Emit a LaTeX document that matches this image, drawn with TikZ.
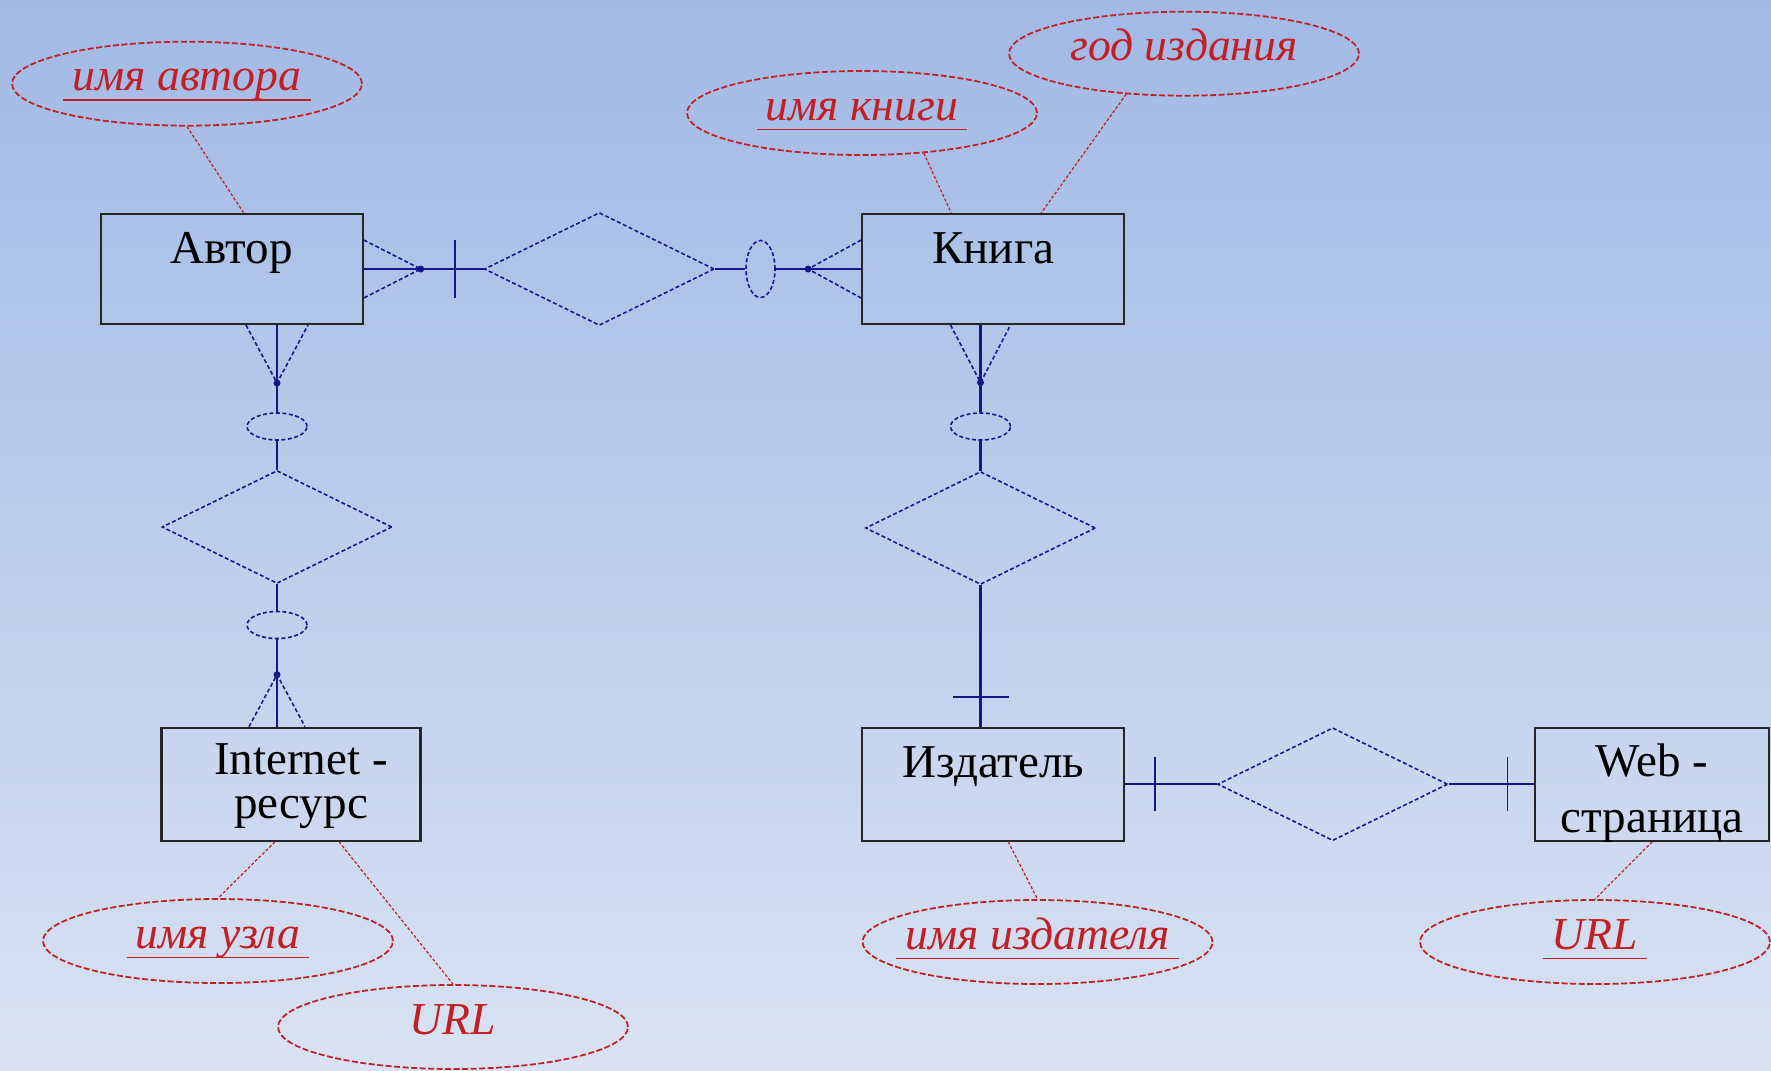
\documentclass[tikz,border=0pt]{standalone}
\usepackage{fontspec}
\setmainfont{Liberation Serif}
\usetikzlibrary{shapes.geometric, positioning}
\definecolor{bgtop}{RGB}{161,185,229}
\definecolor{bgbottom}{RGB}{216,226,242}
\definecolor{erblue}{RGB}{22,22,140}
\definecolor{erred}{RGB}{195,30,35}
\newcommand{\keyattr}[1]{\underline{\hspace{0.2em}\smash{#1}\vrule width 0pt depth 0.1em\hspace{0.2em}}}

\begin{document}
\begin{tikzpicture}[
  x=0.1mm, y=-0.1mm,
  entity/.style={draw=black!85, line width=0.6pt, rectangle, inner sep=0pt,
    minimum width=26.2mm, minimum height=11mm, text height=4.9mm, text depth=6.1mm,
    font=\fontsize{13.4pt}{16pt}\selectfont},
  relation/.style={diamond, draw=erblue, line width=0.45pt, dash pattern=on 0.4mm off 0.25mm,
    inner sep=0pt, minimum width=23mm, minimum height=11.3mm},
  optional/.style={ellipse, draw=erblue, line width=0.45pt, dash pattern=on 0.4mm off 0.25mm,
    inner sep=0pt, minimum width=6mm, minimum height=2.7mm},
  attribute/.style={ellipse, draw=erred, line width=0.5pt, dash pattern=on 0.6mm off 0.25mm,
    inner xsep=-4mm, inner ysep=0pt, minimum width=35mm, minimum height=8.4mm,
    text height=2.2mm, text depth=0.8mm, text=erred,
    font=\fontsize{13pt}{15pt}\selectfont\itshape},
  link/.style={erblue, line width=0.6pt},
  crowfoot/.style={erblue, line width=0.45pt, dash pattern=on 0.4mm off 0.25mm},
  onebar/.style={erblue, line width=0.5pt},
  attrlink/.style={erred, line width=0.35pt, dash pattern=on 0.3mm off 0.2mm}
]

% Background
\shade[top color=bgtop, bottom color=bgbottom] (0,0) rectangle (1771,1070);
\useasboundingbox (0,0) rectangle (1771,1070);

% Entities
\node (avtor) [entity] at (231.7,269) {Автор};
\node (kniga) [entity] at (993.2,269) {Книга};
\node (inet) [entity, align=center, minimum width=25.9mm, text height=9.05mm, text depth=2.25mm,
  font=\fontsize{13.4pt}{12.4pt}\selectfont] at (291,784.2) {\hspace{2mm}Internet -\\\hspace{2mm}ресурс};
\node (izdat) [entity, text height=5mm, text depth=6.3mm] at (993.2,784.2) {Издатель};
\node (web) [entity, align=center, minimum width=23.4mm, text height=10.5mm, text depth=0.8mm,
  font=\fontsize{13.4pt}{16.1pt}\selectfont] at (1652.1,784.2) {Web -\\страница};

% Relationships
\node (rel1) [relation] at (599.3,269) {};
\node (rel2) [relation] at (277,527) {};
\node (rel3) [relation] at (980.5,528) {};
\node (rel4) [relation] at (1332.7,784.2) {};

% Optionality marks
\node (opt1) [optional] at (277,426.5) {};
\node (opt2) [optional] at (277,625) {};
\node (opt3) [optional] at (980.5,426.5) {};
\node (opt4) [optional, minimum width=2.9mm, minimum height=5.7mm] at (760.5,269) {};

% Attributes
\node (authorname) [attribute] at (187,83.7) {\keyattr{имя автора}};
\node (bookname) [attribute] at (862,113) {\keyattr{имя книги}};
\node (year) [attribute] at (1184,53.7) {год издания};
\node (hostname) [attribute] at (218,941) {\keyattr{имя узла}};
\node (inetaddr) [attribute] at (453,1027) {URL};
\node (pubname) [attribute] at (1037.5,942) {\keyattr{имя издателя}};
\node (webaddr) [attribute] at (1595,942) {\keyattr{URL}};

% Attribute links
\draw[attrlink] (authorname.south) -- ([xshift=1.2mm]avtor.north);
\draw[attrlink] (bookname.-33) -- ([xshift=-4.2mm]kniga.north);
\draw[attrlink] (year.-145) -- ([xshift=4.8mm]kniga.north);
\draw[attrlink] ([xshift=-1.6mm]inet.south) -- (hostname.north);
\draw[attrlink] ([xshift=4.8mm]inet.south) -- (inetaddr.north);
\draw[attrlink] ([xshift=1.5mm]izdat.south) -- (pubname.north);
\draw[attrlink] (web.south) -- (webaddr.north);

% Автор -- Книга
\coordinate (d1) at ([xshift=5.7mm]avtor.east);
\coordinate (d5) at ([xshift=-5.3mm]kniga.west);
\draw[link] (avtor.east) -- (rel1.west);
\draw[link] (rel1.east) -- (opt4.west);
\draw[link] (opt4.east) -- (kniga.west);
\draw[crowfoot] ([yshift=2.9mm]avtor.east) -- (d1) -- ([yshift=-2.9mm]avtor.east);
\draw[crowfoot] ([yshift=2.9mm]kniga.west) -- (d5) -- ([yshift=-2.9mm]kniga.west);
\draw[onebar] ([xshift=9.1mm,yshift=2.9mm]avtor.east) -- ([xshift=9.1mm,yshift=-2.9mm]avtor.east);

% Автор -- Internet-ресурс
\coordinate (c1) at (avtor.south -| rel2.north);
\coordinate (c2) at (inet.north -| rel2.south);
\coordinate (d2) at ([yshift=-5.8mm]c1);
\coordinate (d3) at ([yshift=5.2mm]c2);
\draw[link] (c1) -- (opt1.north);
\draw[link] (opt1.south) -- (rel2.north);
\draw[link] (rel2.south) -- (opt2.north);
\draw[link] (opt2.south) -- (c2);
\draw[crowfoot] ([xshift=-3.1mm]c1) -- (d2) -- ([xshift=3.1mm]c1);
\draw[crowfoot] ([xshift=-2.8mm]c2) -- (d3) -- ([xshift=2.8mm]c2);

% Книга -- Издатель
\coordinate (c3) at (kniga.south -| rel3.north);
\coordinate (c4) at (izdat.north -| rel3.south);
\coordinate (d4) at ([yshift=-5.75mm]c3);
\draw[link] (c3) -- (opt3.north);
\draw[link] (opt3.south) -- (rel3.north);
\draw[link] (rel3.south) -- (c4);
\draw[crowfoot] ([xshift=-3mm]c3) -- (d4) -- ([xshift=3mm]c3);
\draw[onebar] ([xshift=-2.8mm,yshift=3mm]c4) -- ([xshift=2.8mm,yshift=3mm]c4);

% Издатель -- Web-страница
\draw[link] (izdat.east) -- (rel4.west);
\draw[link] (rel4.east) -- (web.west);
\draw[onebar] ([xshift=3mm,yshift=2.7mm]izdat.east) -- ([xshift=3mm,yshift=-2.7mm]izdat.east);
\draw[onebar] ([xshift=-2.65mm,yshift=2.7mm]web.west) -- ([xshift=-2.65mm,yshift=-2.7mm]web.west);

% Dots
\foreach \d in {d1,d2,d3,d4,d5}
  \fill[erblue] (\d) circle (0.35mm);

\end{tikzpicture}
\end{document}
